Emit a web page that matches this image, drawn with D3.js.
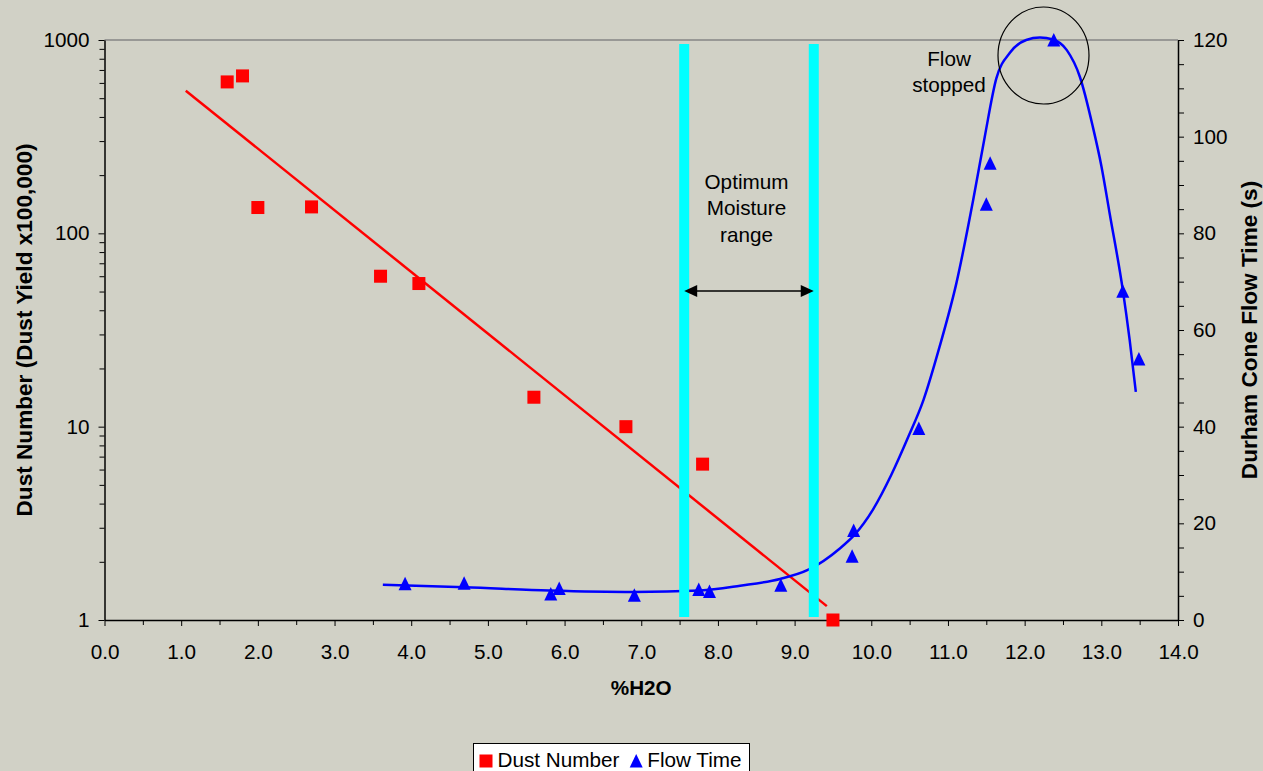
<!DOCTYPE html>
<html>
<head>
<meta charset="utf-8">
<script src="https://cdn.jsdelivr.net/npm/d3@7"></script>
<style>
  html, body { margin: 0; padding: 0; background: #d1d1c6; }
  svg { display: block; font-family: "Liberation Sans", Arial, sans-serif; }
  .axis path, .axis line { stroke: #000; }
  .axis text { font-size: 20.7px; fill: #000; font-family: "Liberation Sans", Arial, sans-serif; }
</style>
</head>
<body>
<script>
// Dust number measurements (left, log axis)
const dustX = [1.6, 1.8, 2.0, 2.7, 3.6, 4.1, 5.6, 6.8, 7.8, 9.5];
const dustY = [607, 652, 136, 137, 60, 55, 14.2, 10, 6.4, 1.0];

// Exponential trendline ends
const dustTrendX = [1.06, 9.42];
const dustTrendY = [547, 1.18];

// Durham cone flow time (right axis)
const flowX = [3.92, 4.69, 5.82, 5.93, 6.91, 7.75, 7.89, 8.82, 9.75, 9.77, 10.62, 11.50, 11.55, 12.38, 13.28, 13.49];
const flowY = [7.5, 7.6, 5.4, 6.5, 5.1, 6.3, 5.9, 7.2, 13.2, 18.5, 39.6, 86, 94.5, 120, 68, 54];

// Flow trend curve
const flowCurveX = [3.63, 4.7, 5.8, 6.9, 7.77, 8.29, 8.81, 9.18, 9.59, 9.78, 10.02, 10.26, 10.48, 10.68, 10.89, 11.11, 11.33, 11.48, 11.63, 11.81, 12.02, 12.2, 12.37, 12.55, 12.72, 12.89, 13.0, 13.11, 13.28, 13.37, 13.45];
const flowCurveY = [7.3, 6.8, 6.1, 5.8, 6.1, 7.1, 8.5, 10.4, 14.8, 17.6, 22.8, 30, 37.8, 45.5, 56.5, 69.7, 87, 100, 112, 117.4, 120, 120.5, 120.1, 117.9, 112.4, 102, 94, 84, 68.3, 57.9, 47.2];

// Optimum moisture range (%H2O)
const moistureRange = [7.56, 9.25];

// Ticks
const xTicks = d3.range(0, 14.01, 1);
const xMinorTicks = d3.range(0.5, 14, 1);
const leftTicks = [1, 10, 100, 1000];
const leftMinorTicks = [2, 3, 4, 5, 6, 7, 8, 9, 20, 30, 40, 50, 60, 70, 80, 90, 200, 300, 400, 500, 600, 700, 800, 900];
const rightTicks = [0, 20, 40, 60, 80, 100, 120];
const rightMinorTicks = d3.range(5, 120, 5).filter(v => v % 20 !== 0);

const width = 1263;
const height = 771;
const plot = { left: 104.5, right: 1178, top: 40, bottom: 620 };
const fontSize = 20.7;
const titleSize = 22.6;

const svg = d3.select("body").append("svg")
    .attr("width", width)
    .attr("height", height);

svg.append("rect")
    .attr("width", width)
    .attr("height", height)
    .attr("fill", "#d1d1c6");

const x = d3.scaleLinear().domain([0, 14]).range([plot.left, plot.right]);
const yLeft = d3.scaleLog().domain([1, 1000]).range([plot.bottom, plot.top]);
const yRight = d3.scaleLinear().domain([0, 120]).range([plot.bottom, plot.top]);

// top border of the plot area
svg.append("line")
    .attr("x1", plot.left).attr("x2", plot.right)
    .attr("y1", plot.top).attr("y2", plot.top)
    .attr("stroke", "#858585")
    .attr("stroke-width", 1.5);

// Axes
const bottomMinor = svg.append("g").attr("class", "axis")
    .attr("transform", `translate(0,${plot.bottom})`)
    .call(d3.axisBottom(x).tickValues(xMinorTicks).tickSize(5).tickFormat(""));
bottomMinor.select(".domain").remove();

svg.append("g").attr("class", "axis")
    .attr("transform", `translate(0,${plot.bottom})`)
    .call(d3.axisBottom(x).tickValues(xTicks).tickSize(6).tickSizeOuter(0)
        .tickPadding(18).tickFormat(d3.format(".1f")))
    .select(".domain").attr("stroke-width", 1.5);

const leftMinor = svg.append("g").attr("class", "axis")
    .attr("transform", `translate(${plot.left},0)`)
    .call(d3.axisLeft(yLeft).tickValues(leftMinorTicks).tickSize(5).tickFormat(""));
leftMinor.select(".domain").remove();

svg.append("g").attr("class", "axis")
    .attr("transform", `translate(${plot.left},0)`)
    .call(d3.axisLeft(yLeft).tickValues(leftTicks).tickSize(6).tickSizeOuter(0)
        .tickPadding(9).tickFormat(d3.format("d")))
    .select(".domain").attr("stroke-width", 1.5);

const rightMinor = svg.append("g").attr("class", "axis")
    .attr("transform", `translate(${plot.right},0)`)
    .call(d3.axisRight(yRight).tickValues(rightMinorTicks).tickSize(6).tickFormat(""));
rightMinor.select(".domain").remove();

svg.append("g").attr("class", "axis")
    .attr("transform", `translate(${plot.right},0)`)
    .call(d3.axisRight(yRight).tickValues(rightTicks).tickSize(6).tickSizeOuter(0)
        .tickPadding(9))
    .select(".domain").attr("stroke-width", 1.5);

// Axis titles
svg.append("text")
    .attr("transform", `translate(31.5,${(plot.top + plot.bottom) / 2}) rotate(-90)`)
    .attr("text-anchor", "middle")
    .attr("font-size", titleSize)
    .attr("font-weight", "bold")
    .text("Dust Number (Dust Yield x100,000)");

svg.append("text")
    .attr("transform", `translate(1256.5,${(plot.top + plot.bottom) / 2}) rotate(-90)`)
    .attr("text-anchor", "middle")
    .attr("font-size", titleSize)
    .attr("font-weight", "bold")
    .text("Durham Cone Flow Time (s)");

svg.append("text")
    .attr("x", (plot.left + plot.right) / 2)
    .attr("y", 695)
    .attr("text-anchor", "middle")
    .attr("font-size", fontSize)
    .attr("font-weight", "bold")
    .text("%H2O");

// Dust trendline
const dustTrend = dustTrendX.map((d, i) => [d, dustTrendY[i]]);
svg.append("path")
    .datum(dustTrend)
    .attr("fill", "none")
    .attr("stroke", "#ff0000")
    .attr("stroke-width", 2.5)
    .attr("d", d3.line().x(d => x(d[0])).y(d => yLeft(d[1])));

// Flow curve
const flowCurve = flowCurveX.map((d, i) => [d, flowCurveY[i]]);
svg.append("path")
    .datum(flowCurve)
    .attr("fill", "none")
    .attr("stroke", "#0000ff")
    .attr("stroke-width", 2.5)
    .attr("d", d3.line().curve(d3.curveMonotoneX)
        .x(d => x(d[0])).y(d => yRight(d[1])));

// Markers
const sq = 13;
svg.append("g").selectAll("rect")
    .data(dustX.map((d, i) => [d, dustY[i]]))
    .join("rect")
    .attr("x", d => x(d[0]) - sq / 2)
    .attr("y", d => yLeft(d[1]) - sq / 2)
    .attr("width", sq)
    .attr("height", sq)
    .attr("fill", "#ff0000");

const tri = "M0,-7L6.5,6.5L-6.5,6.5Z";
svg.append("g").selectAll("path")
    .data(flowX.map((d, i) => [d, flowY[i]]))
    .join("path")
    .attr("d", tri)
    .attr("transform", d => `translate(${x(d[0])},${yRight(d[1])})`)
    .attr("fill", "#0000ff");

// Optimum moisture range bars
svg.append("g").selectAll("rect")
    .data(moistureRange)
    .join("rect")
    .attr("x", d => x(d) - 5)
    .attr("y", 44)
    .attr("width", 10)
    .attr("height", 617 - 44)
    .attr("fill", "#00ffff");

// Double arrow between bars
const arrowY = 291;
const ax1 = x(moistureRange[0]);
const ax2 = x(moistureRange[1]);
svg.append("line")
    .attr("x1", ax1 + 10).attr("x2", ax2 - 10)
    .attr("y1", arrowY).attr("y2", arrowY)
    .attr("stroke", "#000")
    .attr("stroke-width", 1.5);
svg.append("path")
    .attr("d", `M${ax1},${arrowY}L${ax1 + 13},${arrowY - 6}L${ax1 + 13},${arrowY + 6}Z`)
    .attr("fill", "#000");
svg.append("path")
    .attr("d", `M${ax2},${arrowY}L${ax2 - 13},${arrowY - 6}L${ax2 - 13},${arrowY + 6}Z`)
    .attr("fill", "#000");

const optText = svg.append("text")
    .attr("text-anchor", "middle")
    .attr("font-size", fontSize);
["Optimum", "Moisture", "range"].forEach((t, i) => {
    optText.append("tspan")
        .attr("x", 746.5)
        .attr("y", 189 + i * 26.4)
        .text(t);
});

// Flow stopped annotation
const stopText = svg.append("text")
    .attr("text-anchor", "middle")
    .attr("font-size", fontSize);
["Flow", "stopped"].forEach((t, i) => {
    stopText.append("tspan")
        .attr("x", 949)
        .attr("y", 65.7 + i * 26.6)
        .text(t);
});

svg.append("ellipse")
    .attr("cx", 1043.5)
    .attr("cy", 55.5)
    .attr("rx", 45.5)
    .attr("ry", 48.5)
    .attr("fill", "none")
    .attr("stroke", "#000")
    .attr("stroke-width", 1.2);

// Legend
const legend = svg.append("g");
legend.append("rect")
    .attr("x", 473.5).attr("y", 743.5)
    .attr("width", 276).attr("height", 40)
    .attr("fill", "#fff")
    .attr("stroke", "#000")
    .attr("stroke-width", 1);
legend.append("rect")
    .attr("x", 479.5).attr("y", 754.5)
    .attr("width", 13).attr("height", 13)
    .attr("fill", "#ff0000");
legend.append("text")
    .attr("x", 497.5).attr("y", 766.5)
    .attr("font-size", fontSize)
    .text("Dust Number");
legend.append("path")
    .attr("d", tri)
    .attr("transform", "translate(636.2,761)")
    .attr("fill", "#0000ff");
legend.append("text")
    .attr("x", 647.3).attr("y", 766.5)
    .attr("font-size", fontSize)
    .text("Flow Time");
</script>
</body>
</html>
